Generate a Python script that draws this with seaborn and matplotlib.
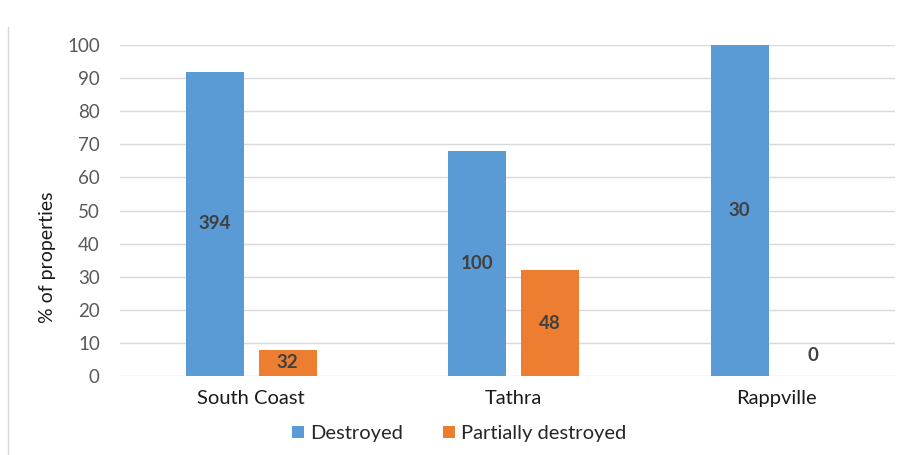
import matplotlib
matplotlib.use("Agg")
import matplotlib.pyplot as plt
import seaborn as sns
import pandas as pd
from matplotlib.lines import Line2D
from matplotlib.patches import Patch

categories = ["South Coast", "Tathra", "Rappville"]
destroyed_pct = [92, 68, 100]
partial_pct = [8, 32, 0]
destroyed_counts = ["394", "100", "30"]
partial_counts = ["32", "48", "0"]
series = ["Destroyed", "Partially destroyed"]
colors = ["#5B9BD5", "#ED7D31"]
yticks = [0, 10, 20, 30, 40, 50, 60, 70, 80, 90, 100]

df = pd.DataFrame({
    "cat": categories * 2,
    "series": [series[0]] * 3 + [series[1]] * 3,
    "pct": destroyed_pct + partial_pct,
    "count": destroyed_counts + partial_counts,
})

sns.set_theme(style="white")
plt.rcParams["font.family"] = ["Lato", "DejaVu Sans"]

fig = plt.figure(figsize=(9.02, 4.55), dpi=100)
ax = fig.add_axes([0.133, 0.1736, 0.859, 0.7274])

sns.barplot(data=df, x="cat", y="pct", hue="series", hue_order=series,
            order=categories, palette=colors, width=0.556, gap=0.205,
            saturation=1, ax=ax, legend=False, edgecolor="none")

ax.set_ylim(0, 100)
ax.set_xlim(-0.5, 2.452)
ax.set_yticks(yticks)
ax.set_yticklabels([str(t) for t in yticks], color="#595959", fontsize=13.5)
ax.tick_params(axis="y", length=0, pad=14.5)
ax.tick_params(axis="x", length=0, pad=10, labelsize=14.5, labelcolor="#1a1a1a")
ax.yaxis.grid(True, color="#D9D9D9", linewidth=1)
ax.set_axisbelow(True)
for s in ax.spines.values():
    s.set_visible(False)
ax.set_xlabel("")
ax.set_ylabel("% of properties", fontsize=14, color="#1a1a1a")
ax.yaxis.set_label_coords(-0.082, 0.36)

# data labels at centre of bars
containers = ax.containers
for cont, vals, labs in zip(containers, [destroyed_pct, partial_pct], [destroyed_counts, partial_counts]):
    for rect, v, lab in zip(cont, vals, labs):
        x = rect.get_x() + rect.get_width() / 2
        y = v / 2 if v > 0 else 6.3
        ax.text(x, y, lab, ha="center", va="center", fontsize=13.5,
                fontweight="bold", color="#404040")

handles = [Patch(facecolor=c, edgecolor="none") for c in colors]
fig.legend(handles, series, loc="center", bbox_to_anchor=(0.509, 0.047), ncol=2,
           frameon=False, fontsize=14.5, handlelength=0.6, handleheight=0.6,
           handletextpad=0.3, columnspacing=2.0)

fig.add_artist(Line2D([0.009, 0.009], [0.0, 0.94], transform=fig.transFigure,
                      color="#D9D9D9", linewidth=1))

fig.savefig("out.png", dpi=100)
